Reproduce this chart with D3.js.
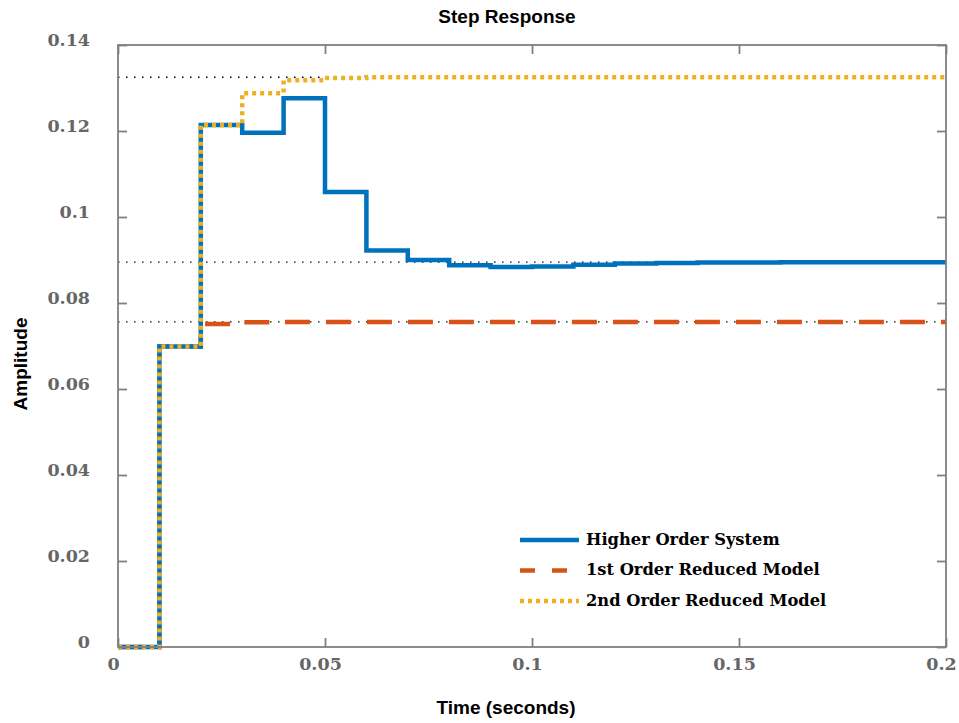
<!DOCTYPE html>
<html>
<head>
<meta charset="utf-8">
<script src="https://cdn.jsdelivr.net/npm/d3@7"></script>
<style>
  body { margin: 0; background: #fff; }
  svg { display: block; }
</style>
</head>
<body>
<script>
// sample instants, 0.01 s apart
const time = [0, 0.01, 0.02, 0.03, 0.04, 0.05, 0.06, 0.07, 0.08, 0.09, 0.1,
  0.11, 0.12, 0.13, 0.14, 0.15, 0.16, 0.17, 0.18, 0.19, 0.2];

const higherOrder = [0, 0.0699, 0.1214, 0.1196, 0.1276, 0.1058, 0.0922, 0.0900,
  0.0888, 0.0884, 0.0885, 0.0889, 0.0892, 0.0893, 0.0894, 0.0894, 0.0895,
  0.0895, 0.0895, 0.0895, 0.0895];
const firstOrder = [0, 0.0699, 0.0751, 0.0755, 0.0756, 0.0756, 0.0756, 0.0756,
  0.0756, 0.0756, 0.0756, 0.0756, 0.0756, 0.0756, 0.0756, 0.0756, 0.0756,
  0.0756, 0.0756, 0.0756, 0.0756];
const secondOrder = [0, 0.0699, 0.1214, 0.1288, 0.1318, 0.1323, 0.1325, 0.1325,
  0.1325, 0.1325, 0.1325, 0.1325, 0.1325, 0.1325, 0.1325, 0.1325, 0.1325,
  0.1325, 0.1325, 0.1325, 0.1325];

// steady-state values (dotted reference lines)
const steadyStates = [0.1325, 0.0895, 0.0756];

const seriesNames = ['Higher Order System', '1st Order Reduced Model', '2nd Order Reduced Model'];
const seriesColors = ['#0072BD', '#D95319', '#EDB120'];

const xTicks = [0, 0.05, 0.1, 0.15, 0.2];
const xTickLabels = ['0', '0.05', '0.1', '0.15', '0.2'];
const yTicks = [0, 0.02, 0.04, 0.06, 0.08, 0.1, 0.12, 0.14];
const yTickLabels = ['0', '0.02', '0.04', '0.06', '0.08', '0.1', '0.12', '0.14'];

const w = 959;
const h = 723;
const margin = { top: 45, right: 13, bottom: 76, left: 118 };
const axisGray = '#808080';
const labelGray = '#666666';
const serif = "'DejaVu Serif', serif";
const sans = "'Liberation Sans', Arial, sans-serif";

const svg = d3.select('body').append('svg').attr('width', w).attr('height', h);

const x = d3.scaleLinear().domain([0, 0.2]).range([margin.left, w - margin.right]);
const y = d3.scaleLinear().domain([0, 0.14]).range([h - margin.bottom, margin.top]);

// steady-state dotted lines
svg.selectAll('line.ss')
  .data(steadyStates)
  .enter()
  .append('line')
  .attr('class', 'ss')
  .attr('x1', x(0))
  .attr('x2', x(0.2))
  .attr('y1', (d) => y(d))
  .attr('y2', (d) => y(d))
  .attr('stroke', '#000')
  .attr('stroke-width', 1.3)
  .attr('stroke-dasharray', '1.5,6.5');

// step responses
const stairs = d3.line()
  .x((d) => x(d[0]))
  .y((d) => y(d[1]))
  .curve(d3.curveStepAfter);

const series = [higherOrder, firstOrder, secondOrder];
const dashes = [null, '25,16', '4,4'];

// 1st order goes underneath, so the shared segments show blue/yellow
[1, 0, 2].forEach((i) => {
  const vals = series[i];
  svg.append('path')
    .datum(time.map((t, k) => [t, vals[k]]))
    .attr('d', stairs)
    .attr('fill', 'none')
    .attr('stroke', seriesColors[i])
    .attr('stroke-width', 4.5)
    .attr('stroke-dasharray', dashes[i]);
});

// box + ticks
svg.append('rect')
  .attr('x', x(0))
  .attr('y', y(0.14))
  .attr('width', x(0.2) - x(0))
  .attr('height', y(0) - y(0.14))
  .attr('fill', 'none')
  .attr('stroke', axisGray)
  .attr('stroke-width', 1.8);

const styleAxis = (g) => {
  g.select('.domain').remove();
  g.selectAll('.tick line').attr('stroke', axisGray).attr('stroke-width', 1.8);
};

const styleTickText = (g) => g.selectAll('text')
  .attr('fill', labelGray)
  .style('font-family', serif)
  .style('font-weight', 'bold')
  .style('font-size', '17.5px');

svg.append('g')
  .attr('transform', `translate(0,${y(0)})`)
  .call(d3.axisBottom(x).tickValues(xTicks).tickSize(-9).tickPadding(11)
    .tickFormat((d, i) => xTickLabels[i]))
  .call(styleAxis)
  .call(styleTickText)
  .call((g) => g.selectAll('text').attr('dx', -5));

svg.append('g')
  .attr('transform', `translate(0,${y(0.14)})`)
  .call(d3.axisTop(x).tickValues(xTicks).tickSize(-9).tickFormat(''))
  .call(styleAxis);

svg.append('g')
  .attr('transform', `translate(${x(0)},0)`)
  .call(d3.axisLeft(y).tickValues(yTicks).tickSize(-9).tickPadding(28)
    .tickFormat((d, i) => yTickLabels[i]))
  .call(styleAxis)
  .call(styleTickText)
  .call((g) => g.selectAll('text').attr('y', -5.5));

svg.append('g')
  .attr('transform', `translate(${x(0.2)},0)`)
  .call(d3.axisRight(y).tickValues(yTicks).tickSize(-9).tickFormat(''))
  .call(styleAxis);

// titles
svg.append('text')
  .attr('x', 507)
  .attr('y', 22.5)
  .attr('text-anchor', 'middle')
  .style('font-family', sans)
  .style('font-weight', 'bold')
  .style('font-size', '19px')
  .text('Step Response');

svg.append('text')
  .attr('x', 506)
  .attr('y', 714)
  .attr('text-anchor', 'middle')
  .style('font-family', sans)
  .style('font-weight', 'bold')
  .style('font-size', '19px')
  .text('Time (seconds)');

svg.append('text')
  .attr('transform', 'translate(27,364) rotate(-90)')
  .attr('text-anchor', 'middle')
  .style('font-family', sans)
  .style('font-weight', 'bold')
  .style('font-size', '19px')
  .text('Amplitude');

// legend
const legendDashes = [null, '15,17', '4,4'];
const legend = svg.append('g').attr('transform', 'translate(520,540)');
seriesNames.forEach((name, i) => {
  const row = legend.append('g').attr('transform', `translate(0,${i * 30.5})`);
  row.append('line')
    .attr('x1', 0)
    .attr('x2', 59)
    .attr('y1', 0)
    .attr('y2', 0)
    .attr('stroke', seriesColors[i])
    .attr('stroke-width', 4.5)
    .attr('stroke-dasharray', legendDashes[i]);
  row.append('text')
    .attr('x', 66)
    .attr('y', 4.5)
    .style('font-family', serif)
    .style('font-weight', 'bold')
    .style('font-size', '16.3px')
    .text(name);
});
</script>
</body>
</html>
